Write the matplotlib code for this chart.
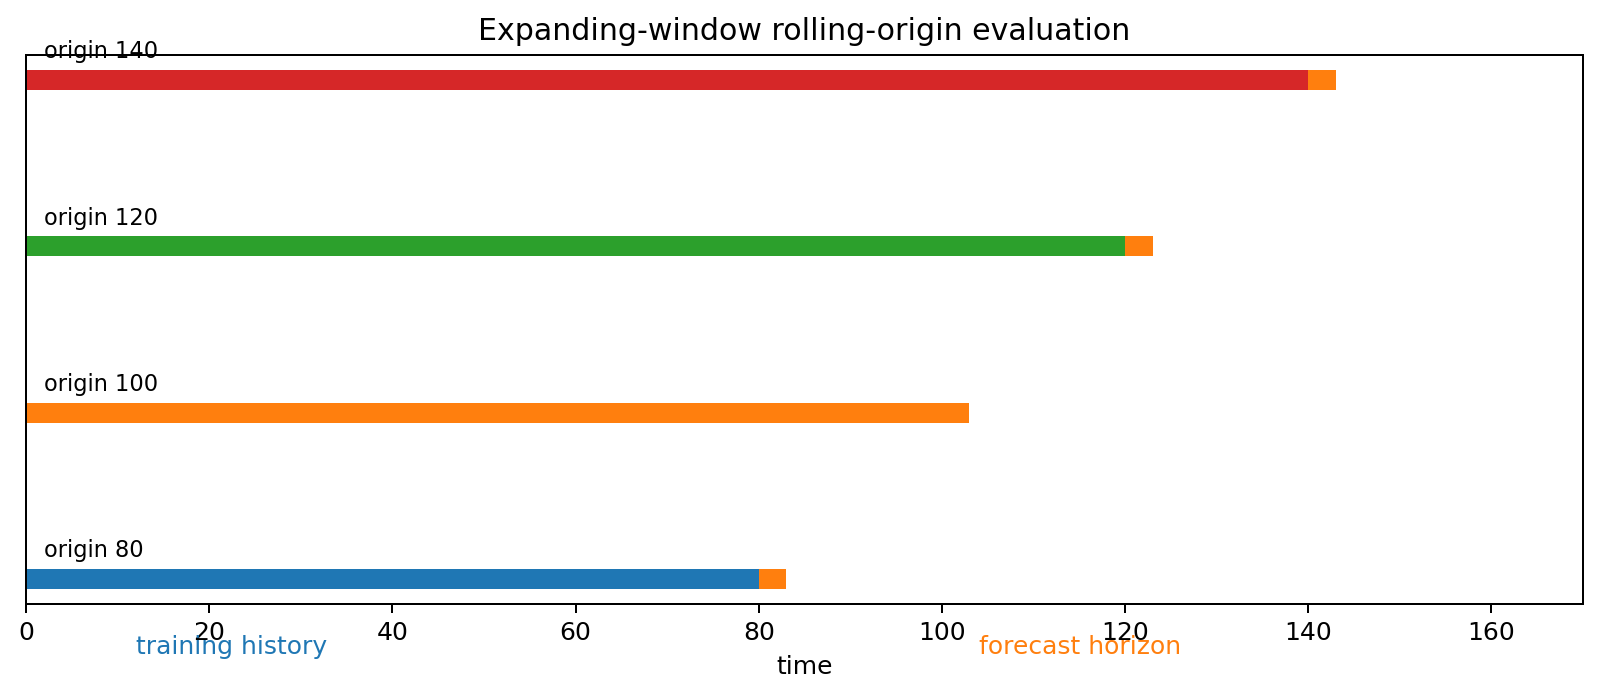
import matplotlib
matplotlib.use("Agg")
import matplotlib.pyplot as plt

# data
origins = [80, 100, 120, 140]
horizon = 3
train_start = 0
origin_labels = ["origin 80", "origin 100", "origin 120", "origin 140"]
xticks = [0, 20, 40, 60, 80, 100, 120, 140, 160]

W, H, DPI = 1601, 700, 180
fig = plt.figure(figsize=(W / DPI, H / DPI), dpi=DPI)
ax = fig.add_axes([26 / W, 1 - 604 / H, 1557 / W, 549 / H])

train_colors = ["tab:blue", "tab:orange", "tab:green", "tab:red"]
for i, (o, lab) in enumerate(zip(origins, origin_labels)):
    ax.barh(i, o - train_start, left=train_start, height=0.12, color=train_colors[i])
    ax.barh(i, horizon, left=o, height=0.12, color="tab:orange")
    ax.text(2, i + 0.1, lab, fontsize=9, va="bottom", ha="left")

ax.set_xlim(0, 170)
ax.set_ylim(-0.15, 3.15)
ax.set_yticks([])
ax.set_xticks(xticks)
ax.set_xlabel("time")
ax.set_title("Expanding-window rolling-origin evaluation", fontsize=12)

fig.text(136 / W, 1 - 654 / H, "training history", color="tab:blue",
         fontsize=10, ha="left", va="baseline")
fig.text(979 / W, 1 - 654 / H, "forecast horizon", color="tab:orange",
         fontsize=10, ha="left", va="baseline")

fig.savefig("out.png", dpi=DPI)
